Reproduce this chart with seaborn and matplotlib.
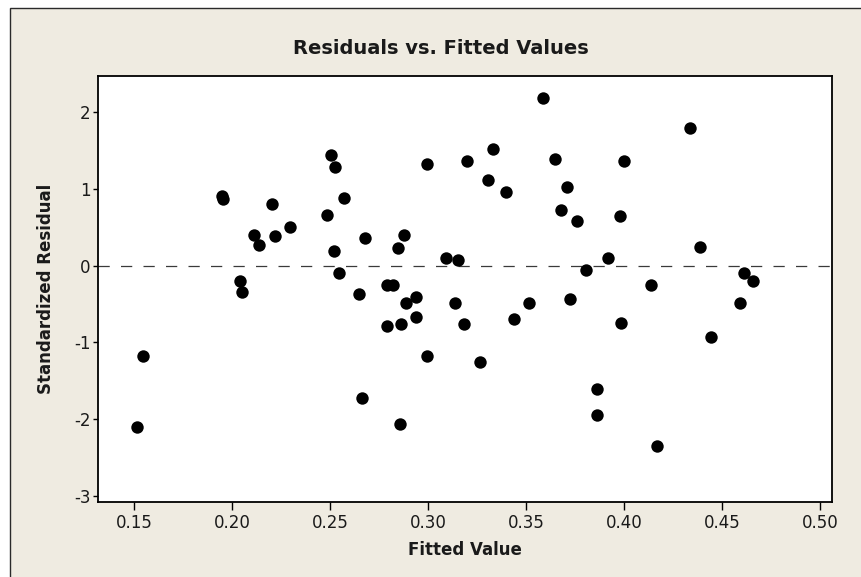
import matplotlib
matplotlib.use("Agg")
import matplotlib.pyplot as plt
import matplotlib.patches as mpatches
import seaborn as sns
import pandas as pd

fitted = [0.1514, 0.1544, 0.1950, 0.1955, 0.2042, 0.2049, 0.2110, 0.2135, 0.2203, 0.2220,
          0.2295, 0.2486, 0.2503, 0.2519, 0.2525, 0.2548, 0.2570, 0.2648, 0.2665, 0.2680,
          0.2793, 0.2793, 0.2819, 0.2848, 0.2856, 0.2863, 0.2878, 0.2886, 0.2941, 0.2941,
          0.2993, 0.2993, 0.3093, 0.3139, 0.3155, 0.3185, 0.3201, 0.3264, 0.3308, 0.3330,
          0.3400, 0.3438, 0.3516, 0.3584, 0.3646, 0.3676, 0.3709, 0.3723, 0.3760, 0.3807,
          0.3861, 0.3861, 0.3916, 0.3977, 0.3984, 0.3999, 0.4137, 0.4168, 0.4337, 0.4390,
          0.4444, 0.4590, 0.4613, 0.4659]
resid = [-2.10, -1.184, 0.91, 0.87, -0.20, -0.34, 0.40, 0.267, 0.798, 0.385,
         0.50, 0.662, 1.44, 0.19, 1.29, -0.10, 0.876, -0.365, -1.73, 0.365,
         -0.79, -0.254, -0.254, 0.232, -2.06, -0.767, 0.405, -0.49, -0.413, -0.673,
         -1.18, 1.32, 0.094, -0.493, 0.076, -0.767, 1.36, -1.254, 1.11, 1.52,
         0.954, -0.693, -0.493, 2.184, 1.385, 0.72, 1.03, -0.437, 0.585, -0.063,
         -1.61, -1.945, 0.094, 0.641, -0.75, 1.362, -0.258, -2.353, 1.79, 0.245,
         -0.928, -0.493, -0.10, -0.197]

x_ticks = [0.15, 0.20, 0.25, 0.30, 0.35, 0.40, 0.45, 0.50]
x_ticklabels = ["0.15", "0.20", "0.25", "0.30", "0.35", "0.40", "0.45", "0.50"]
y_ticks = [-3, -2, -1, 0, 1, 2]
y_ticklabels = ["-3", "-2", "-1", "0", "1", "2"]

title = "Residuals vs. Fitted Values"
xlabel = "Fitted Value"
ylabel = "Standardized Residual"

sns.set_theme(style="white")
plt.rcParams['font.family'] = ['DejaVu Sans']
plt.rcParams['axes.unicode_minus'] = False

df = pd.DataFrame({"Fitted Value": fitted, "Standardized Residual": resid})

W, H = 862, 577
fig = plt.figure(figsize=(W / 100, H / 100), dpi=100, facecolor="white")

# beige panel with dark border (left/top visible)
panel = mpatches.Rectangle((10.5 / W, -0.05), 1.1, 1 - 7.5 / H + 0.05,
                           transform=fig.transFigure, facecolor="#EFEBE1",
                           edgecolor="#2a2a2a", linewidth=1.0, zorder=-10)
fig.add_artist(panel)

left, right, top, bottom = 98 / W, 832 / W, 1 - 76 / H, 1 - 502 / H
ax = fig.add_axes([left, bottom, right - left, top - bottom])
ax.set_zorder(5)
ax.set_facecolor("white")

ax.axhline(0, color="#3a3a3a", linewidth=0.9, linestyle=(0, (9.0, 9.0)), zorder=1)
sns.scatterplot(data=df, x="Fitted Value", y="Standardized Residual", ax=ax,
                color="black", s=80, edgecolor="black", linewidth=0, zorder=3)

ax.set_xlim(0.1316, 0.5061)
ax.set_ylim(-3.08, 2.47)
ax.set_xticks(x_ticks)
ax.set_xticklabels(x_ticklabels)
ax.set_yticks(y_ticks)
ax.set_yticklabels(y_ticklabels)
ax.tick_params(axis="x", direction="out", length=5.5, width=1.0, color="black",
               labelsize=12, pad=3, bottom=True, labelcolor="#1a1a1a")
ax.tick_params(axis="y", direction="out", length=3.5, width=1.0, color="black",
               labelsize=12, pad=2, left=True, labelcolor="#1a1a1a")
for sp in ax.spines.values():
    sp.set_visible(True)
    sp.set_color("black")
    sp.set_linewidth(1.3)

ax.set_xlabel("")
ax.set_ylabel("")
fig.text(465 / W, 1 - 550 / H, xlabel, ha="center", va="center",
         fontsize=12, fontweight="bold", color="#1a1a1a")
fig.text(46 / W, 1 - 289 / H, ylabel, ha="center", va="center", rotation=90,
         fontsize=12, fontweight="bold", color="#1a1a1a")
fig.text(441 / W, 1 - 48 / H, title, ha="center", va="center",
         fontsize=14, fontweight="bold", color="#1a1a1a")

fig.savefig("out.png", dpi=100, facecolor=fig.get_facecolor())
